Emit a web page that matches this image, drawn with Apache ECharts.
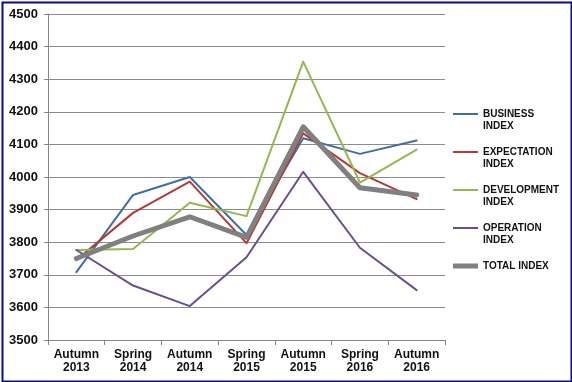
<!DOCTYPE html>
<html>
<head>
<meta charset="utf-8">
<script src="https://cdn.jsdelivr.net/npm/echarts@6/dist/echarts.min.js"></script>
<style>
html,body{margin:0;padding:0;background:#fff;}
#chart{width:572px;height:382px;}
</style>
</head>
<body>
<div id="chart"></div>
<script>
var categories = ['Autumn\n2013', 'Spring\n2014', 'Autumn\n2014', 'Spring\n2015', 'Autumn\n2015', 'Spring\n2016', 'Autumn\n2016'];
var businessIndex    = [3708, 3945, 4000, 3822, 4119, 4071, 4112];
var expectationIndex = [3745, 3890, 3986, 3797, 4134, 4012, 3932];
var developmentIndex = [3776, 3779, 3921, 3880, 4354, 3983, 4084];
var operationIndex   = [3776, 3667, 3604, 3754, 4016, 3783, 3653];
var totalIndex       = [3750, 3819, 3878, 3815, 4154, 3967, 3945];
var yTicks = { min: 3500, max: 4500, interval: 100 };

var seriesDefs = [
  { name: 'BUSINESS INDEX',    label: '\nBUSINESS\nINDEX',    data: businessIndex,    color: '#3D6FA6', width: 2 },
  { name: 'EXPECTATION INDEX', label: '\nEXPECTATION\nINDEX', data: expectationIndex, color: '#B33A36', width: 2 },
  { name: 'DEVELOPMENT INDEX', label: '\nDEVELOPMENT\nINDEX', data: developmentIndex, color: '#93B84E', width: 2 },
  { name: 'OPERATION INDEX',   label: '\nOPERATION\nINDEX',   data: operationIndex,   color: '#6A4E93', width: 2 },
  { name: 'TOTAL INDEX',       label: '\nTOTAL INDEX\n',      data: totalIndex,       color: '#808080', width: 5 }
];
var labelMap = {};
seriesDefs.forEach(function (s) { labelMap[s.name] = s.label; });

var chart = echarts.init(document.getElementById('chart'), null, { renderer: 'canvas' });
chart.setOption({
  animation: false,
  backgroundColor: '#ffffff',
  grid: { left: 48, right: 127, top: 14, bottom: 42, containLabel: false },
  xAxis: {
    type: 'category',
    data: categories,
    boundaryGap: true,
    axisLine: { show: true, lineStyle: { color: '#868686', width: 1 } },
    axisTick: { show: true, length: 5, alignWithLabel: false, lineStyle: { color: '#868686' } },
    axisLabel: { color: '#111', fontFamily: 'Liberation Sans, Arial', fontWeight: 'bold', fontSize: 12, lineHeight: 13, margin: 8, interval: 0 },
    splitLine: { show: false }
  },
  yAxis: {
    type: 'value',
    min: yTicks.min, max: yTicks.max, interval: yTicks.interval,
    axisLine: { show: true, lineStyle: { color: '#868686', width: 1 } },
    axisTick: { show: true, length: 4, lineStyle: { color: '#868686' } },
    axisLabel: { color: '#111', fontFamily: 'Liberation Sans, Arial', fontWeight: 'bold', fontSize: 13, margin: 10,
      formatter: function (v) { return String(v); } },
    splitLine: { show: true, lineStyle: { color: '#8c8c8c', width: 1 } }
  },
  legend: {
    orient: 'vertical',
    left: 453,
    top: 96,
    padding: 0,
    itemWidth: 25,
    itemHeight: 12,
    itemGap: 2,
    selectedMode: false,
    formatter: function (name) { return labelMap[name]; },
    textStyle: { color: '#111', fontFamily: 'Liberation Sans, Arial', fontWeight: 'bold', fontSize: 10, lineHeight: 12 },
    data: seriesDefs.map(function (s) {
      return { name: s.name, icon: s.width > 2 ? 'path://M0,0H25V5H0Z' : 'path://M0,0H25V2H0Z' };
    })
  },
  graphic: [{
    type: 'rect',
    left: 0, top: 0,
    shape: { x: 1, y: 1, width: 569, height: 379 },
    style: { fill: 'none', stroke: '#0c0c8a', lineWidth: 2 },
    silent: true,
    z: 100
  }],
  series: seriesDefs.map(function (s) {
    return {
      name: s.name,
      type: 'line',
      data: s.data,
      symbol: 'none',
      showSymbol: false,
      smooth: false,
      z: s.width > 2 ? 3 : 2,
      itemStyle: { color: s.color },
      lineStyle: { color: s.color, width: s.width, cap: 'round', join: 'round' }
    };
  })
});
</script>
</body>
</html>
